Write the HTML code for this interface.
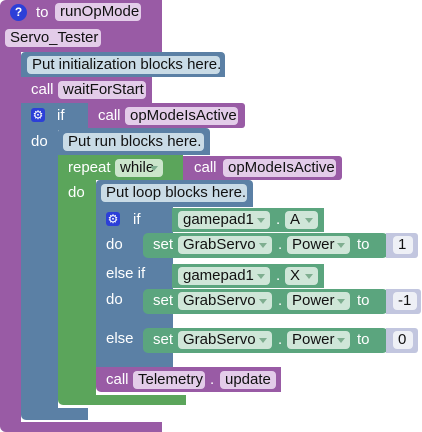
<!DOCTYPE html>
<html><head><meta charset="utf-8"><style>
body{margin:0;width:422px;height:432px;background:#fff;position:relative;overflow:hidden;font-family:"Liberation Sans",Arial,sans-serif;font-size:15px}
div{position:absolute;box-sizing:border-box}
.p{background:#995ba5}.b{background:#5b80a5}.g{background:#5ba55b}.s{background:#5ba57e}.n{background:#c2c6df}
.t{color:#fff;line-height:18px;white-space:nowrap}
.f{border-radius:4px;color:#111;line-height:18px;padding:0 5px;white-space:nowrap;height:18px}
.fp{background:#e3cce9}.fb{background:#c9dbe6}.fg{background:#cbe6cb}.fs{background:#cfe6d8}.fn{background:#eef0f6}
.dd{position:absolute;right:5px;top:7px;width:0;height:0;border-left:4px solid transparent;border-right:4px solid transparent;border-top:5px solid #7fae90}
.gear{background:#2c3fd8;border-radius:3px;color:#fff;font-size:12px;text-align:center;line-height:14px}
</style></head><body>
<!-- procedure -->
<div class="p" style="left:0;top:0;width:162px;height:52px;border-top-left-radius:6px"></div>
<div class="p" style="left:0;top:50px;width:21px;height:376px"></div>
<div class="p" style="left:0;top:422px;width:162px;height:10px;border-bottom-left-radius:6px"></div>
<div style="left:10px;top:4px;width:17px;height:17px;border-radius:50%;background:#2c3fd8;color:#fff;font-weight:bold;font-size:12px;text-align:center;line-height:17px">?</div>
<div class="t" style="left:36px;top:4px">to</div>
<div class="f fp" style="left:55px;top:3px;width:86px">runOpMode</div>
<div class="f fp" style="left:5px;top:29px;width:96px">Servo_Tester</div>
<!-- init comment -->
<div class="b" style="left:21px;top:52px;width:204px;height:25px;border-radius:4px 4px 0 0"></div>
<div class="f fb" style="left:27px;top:56px;width:193px">Put initialization blocks here.</div>
<!-- waitForStart -->
<div class="p" style="left:21px;top:77px;width:131px;height:26px"></div>
<div class="t" style="left:31px;top:81px">call</div>
<div class="f fp" style="left:58px;top:81px;width:88px">waitForStart</div>
<!-- outer if -->
<div class="b" style="left:21px;top:103px;width:67px;height:27px"></div>
<div class="b" style="left:21px;top:103px;width:37px;height:310px"></div>
<div class="b" style="left:21px;top:408px;width:67px;height:12px;border-bottom-left-radius:5px"></div>
<div class="gear" style="left:31px;top:108px;width:14px;height:14px">⚙</div>
<div class="t" style="left:57px;top:107px">if</div>
<div class="t" style="left:31px;top:133px">do</div>
<div class="p" style="left:88px;top:103px;width:157px;height:25px;border-radius:0 3px 3px 0"></div>
<div class="t" style="left:98px;top:107px">call</div>
<div class="f fp" style="left:125px;top:107px;width:113px">opModeIsActive</div>
<!-- run comment -->
<div class="b" style="left:58px;top:128px;width:152px;height:27px;border-radius:4px 4px 0 0"></div>
<div class="f fb" style="left:63px;top:133px;width:141px">Put run blocks here.</div>
<!-- repeat -->
<div class="g" style="left:58px;top:155px;width:125px;height:25px"></div>
<div class="g" style="left:58px;top:155px;width:38px;height:245px"></div>
<div class="g" style="left:58px;top:395px;width:128px;height:10px;border-bottom-left-radius:5px"></div>
<div class="t" style="left:68px;top:159px">repeat</div>
<div class="f fg" style="left:115px;top:159px;width:48px">while<span class="dd"></span></div>
<div class="t" style="left:68px;top:184px">do</div>
<div class="p" style="left:183px;top:156px;width:159px;height:24px;border-radius:0 3px 3px 0"></div>
<div class="t" style="left:194px;top:159px">call</div>
<div class="f fp" style="left:223px;top:159px;width:113px">opModeIsActive</div>
<!-- loop comment -->
<div class="b" style="left:96px;top:180px;width:157px;height:27px;border-radius:4px 4px 0 0"></div>
<div class="f fb" style="left:101px;top:184px;width:146px">Put loop blocks here.</div>
<!-- inner if -->
<div class="b" style="left:96px;top:206px;width:77px;height:162px"></div>
<div class="gear" style="left:106px;top:212px;width:14px;height:14px">⚙</div>
<div class="t" style="left:133px;top:211px">if</div>
<div class="t" style="left:106px;top:236px">do</div>
<div class="t" style="left:106px;top:265px">else if</div>
<div class="t" style="left:106px;top:291px">do</div>
<div class="t" style="left:106px;top:330px">else</div>
<!-- gamepad A -->
<div class="s" style="left:172px;top:208px;width:152px;height:24px"></div>
<div class="f fs" style="left:178px;top:211px;width:92px">gamepad1<span class="dd"></span></div>
<div class="t" style="left:276px;top:211px">.</div>
<div class="f fs" style="left:285px;top:211px;width:33px">A<span class="dd"></span></div>
<!-- set 1 -->
<div class="s" style="left:143px;top:233px;width:245px;height:25px;border-radius:5px"></div>
<div class="t" style="left:153px;top:236px">set</div>
<div class="f fs" style="left:178px;top:236px;width:94px">GrabServo<span class="dd"></span></div>
<div class="t" style="left:278px;top:236px">.</div>
<div class="f fs" style="left:287px;top:236px;width:63px">Power<span class="dd"></span></div>
<div class="t" style="left:357px;top:236px">to</div>
<div class="n" style="left:386px;top:233px;width:32px;height:25px;border-radius:0 3px 3px 0"></div>
<div class="f fn" style="left:393px;top:236px;width:20px">1</div>
<!-- gamepad X -->
<div class="s" style="left:172px;top:264px;width:152px;height:24px"></div>
<div class="f fs" style="left:178px;top:267px;width:92px">gamepad1<span class="dd"></span></div>
<div class="t" style="left:276px;top:267px">.</div>
<div class="f fs" style="left:285px;top:267px;width:33px">X<span class="dd"></span></div>
<!-- set 2 -->
<div class="s" style="left:143px;top:289px;width:245px;height:25px;border-radius:5px"></div>
<div class="t" style="left:153px;top:292px">set</div>
<div class="f fs" style="left:178px;top:292px;width:94px">GrabServo<span class="dd"></span></div>
<div class="t" style="left:278px;top:292px">.</div>
<div class="f fs" style="left:287px;top:292px;width:63px">Power<span class="dd"></span></div>
<div class="t" style="left:357px;top:292px">to</div>
<div class="n" style="left:386px;top:289px;width:35px;height:25px;border-radius:0 3px 3px 0"></div>
<div class="f fn" style="left:393px;top:292px;width:24px">-1</div>
<!-- set 3 -->
<div class="s" style="left:143px;top:328px;width:245px;height:25px;border-radius:5px"></div>
<div class="t" style="left:153px;top:331px">set</div>
<div class="f fs" style="left:178px;top:331px;width:94px">GrabServo<span class="dd"></span></div>
<div class="t" style="left:278px;top:331px">.</div>
<div class="f fs" style="left:287px;top:331px;width:63px">Power<span class="dd"></span></div>
<div class="t" style="left:357px;top:331px">to</div>
<div class="n" style="left:386px;top:328px;width:32px;height:25px;border-radius:0 3px 3px 0"></div>
<div class="f fn" style="left:393px;top:331px;width:20px">0</div>
<!-- telemetry -->
<div class="p" style="left:96px;top:367px;width:185px;height:25px;border-radius:0 0 0 5px"></div>
<div class="t" style="left:106px;top:371px">call</div>
<div class="f fp" style="left:133px;top:371px;width:72px">Telemetry</div>
<div class="t" style="left:210px;top:371px">.</div>
<div class="f fp" style="left:220px;top:371px;width:56px">update</div>
</body></html>
